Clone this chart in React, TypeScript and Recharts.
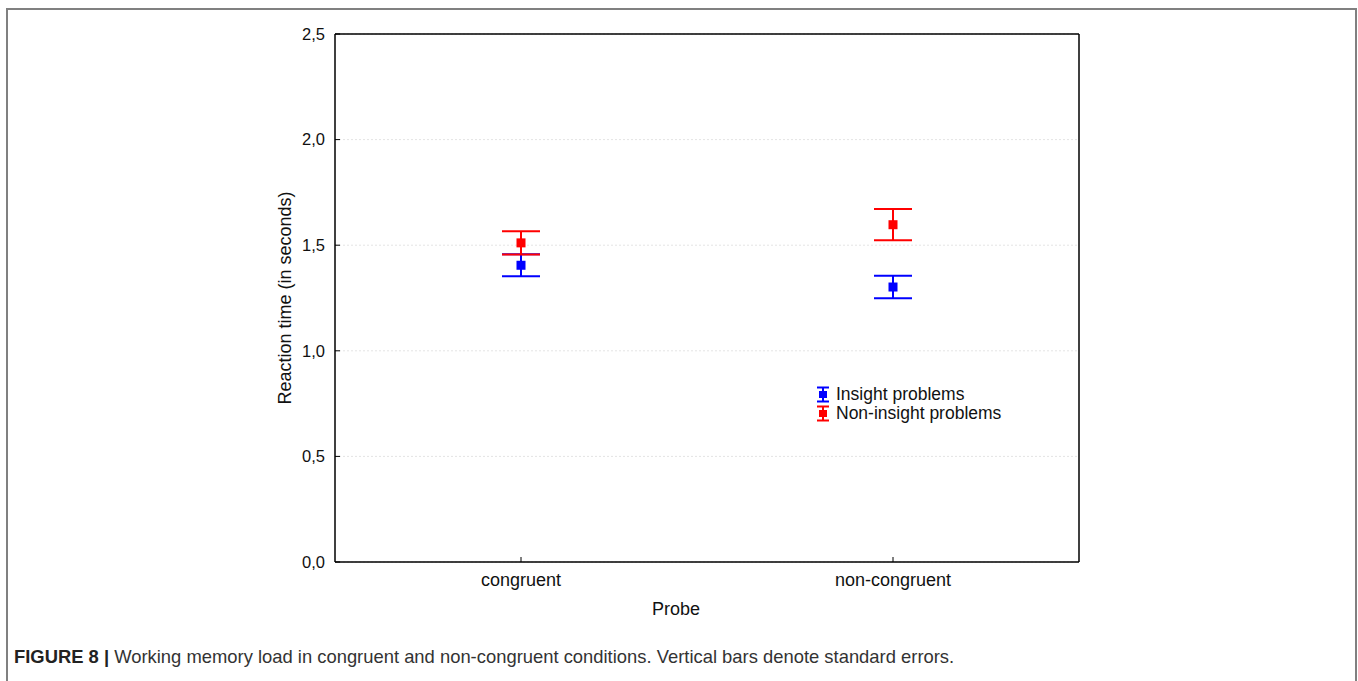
import React from 'react';
import {
  ComposedChart, Scatter, ErrorBar, XAxis, YAxis, CartesianGrid, ReferenceLine, Legend,
} from 'recharts';

const categories = ['congruent', 'non-congruent'];
const insightMean = [1.405, 1.302];
const insightSE = [0.052, 0.053];
const nonInsightMean = [1.511, 1.597];
const nonInsightSE = [0.055, 0.074];
const yTicks = [0, 0.5, 1.0, 1.5, 2.0, 2.5];

const seriesNames = ['Insight problems', 'Non-insight problems'];
const seriesColors = ['#0000ff', '#ff0000'];

const data = categories.map((c, i) => ({
  probe: c,
  insight: insightMean[i],
  insightErr: insightSE[i],
  nonInsight: nonInsightMean[i],
  nonInsightErr: nonInsightSE[i],
}));

const fmt = (v: number) => v.toFixed(1).replace('.', ',');

const SquareShape = (props: any) => {
  const { cx, cy, fill } = props;
  if (cx == null || cy == null) return null;
  return <rect x={cx - 4.5} y={cy - 4.5} width={9} height={9} fill={fill} />;
};

const LegendContent = () => (
  <div style={{ fontFamily: 'Liberation Sans, Arial, sans-serif', fontSize: 17.5, color: '#111' }}>
    {seriesNames.map((n, i) => (
      <div key={n} style={{ display: 'flex', alignItems: 'center', height: 19 }}>
        <svg width={14} height={17} style={{ marginRight: 6 }}>
          <line x1={1} x2={13} y1={1.5} y2={1.5} stroke={seriesColors[i]} strokeWidth={2} />
          <line x1={1} x2={13} y1={15.5} y2={15.5} stroke={seriesColors[i]} strokeWidth={2} />
          <line x1={7} x2={7} y1={1.5} y2={15.5} stroke={seriesColors[i]} strokeWidth={2} />
          <rect x={3} y={5} width={8} height={7} fill={seriesColors[i]} />
        </svg>
        <span>{n}</span>
      </div>
    ))}
  </div>
);

const NoTick = () => <g />;

export default function App() {
  return (
    <div style={{ position: 'absolute', left: 0, top: 0, width: 1358, height: 681, overflow: 'hidden', background: '#fff', fontFamily: 'Liberation Sans, Arial, sans-serif' }}>
      <div style={{ position: 'absolute', left: 6, top: 8, width: 1347, height: 700, borderTop: '2px solid #808080', borderLeft: '2px solid #808080', borderRight: '2px solid #808080' }} />
      <div style={{ position: 'absolute', left: 0, top: 0 }}>
        <ComposedChart
          width={1358}
          height={681}
          data={data}
          margin={{ top: 34, right: 278, bottom: 89, left: 275 }}
        >
          <CartesianGrid yAxisId="left" vertical={false} stroke="#e4e4e4" strokeDasharray="2 2" />
          <XAxis
            dataKey="probe"
            type="category"
            scale="band"
            height={30}
            axisLine={{ stroke: '#000', strokeWidth: 1.5 }}
            tickLine={{ stroke: '#000' }}
            tickSize={-5}
            tickMargin={16}
            tick={{ fill: '#111', fontSize: 18 }}
            label={{ value: 'Probe', position: 'insideBottom', offset: -23, dx: -31, fill: '#111', fontSize: 18 }}
          />
          <YAxis
            yAxisId="left"
            domain={[0, 2.5]}
            ticks={yTicks}
            width={60}
            tickFormatter={fmt}
            axisLine={{ stroke: '#000', strokeWidth: 1.5 }}
            tickLine={{ stroke: '#000' }}
            tickSize={-5}
            tickMargin={15}
            tick={{ fill: '#111', fontSize: 16.5 }}
            label={{ value: 'Reaction time (in seconds)', angle: -90, position: 'insideLeft', offset: 10, style: { textAnchor: 'middle' }, fill: '#111', fontSize: 18 }}
          />
          <YAxis
            yAxisId="right"
            orientation="right"
            domain={[0, 2.5]}
            ticks={yTicks}
            width={1}
            axisLine={{ stroke: '#000', strokeWidth: 1.5 }}
            tickLine={{ stroke: '#000' }}
            tickSize={-5}
            tick={<NoTick />}
          />
          <ReferenceLine yAxisId="left" y={2.5} stroke="#000" strokeWidth={1.5} />
          <Scatter
            name={seriesNames[0]}
            yAxisId="left"
            dataKey="insight"
            fill={seriesColors[0]}
            shape={<SquareShape />}
            isAnimationActive={false}
          >
            <ErrorBar dataKey="insightErr" direction="y" width={19} stroke={seriesColors[0]} strokeWidth={2} isAnimationActive={false} />
          </Scatter>
          <Scatter
            name={seriesNames[1]}
            yAxisId="left"
            dataKey="nonInsight"
            fill={seriesColors[1]}
            shape={<SquareShape />}
            isAnimationActive={false}
          >
            <ErrorBar dataKey="nonInsightErr" direction="y" width={19} stroke={seriesColors[1]} strokeWidth={2} isAnimationActive={false} />
          </Scatter>
          <Legend
            layout="horizontal"
            verticalAlign="middle"
            align="center"
            content={<LegendContent />}
            wrapperStyle={{ position: 'absolute', left: 816, top: 385, width: 'auto' }}
          />
        </ComposedChart>
      </div>
      <div style={{ position: 'absolute', left: 14, top: 646, fontSize: 18.4, color: '#333', whiteSpace: 'nowrap', fontFamily: 'Liberation Sans, Arial, sans-serif' }}>
        <span style={{ fontWeight: 'bold', color: '#222' }}>FIGURE 8 | </span>
        Working memory load in congruent and non-congruent conditions. Vertical bars denote standard errors.
      </div>
    </div>
  );
}
